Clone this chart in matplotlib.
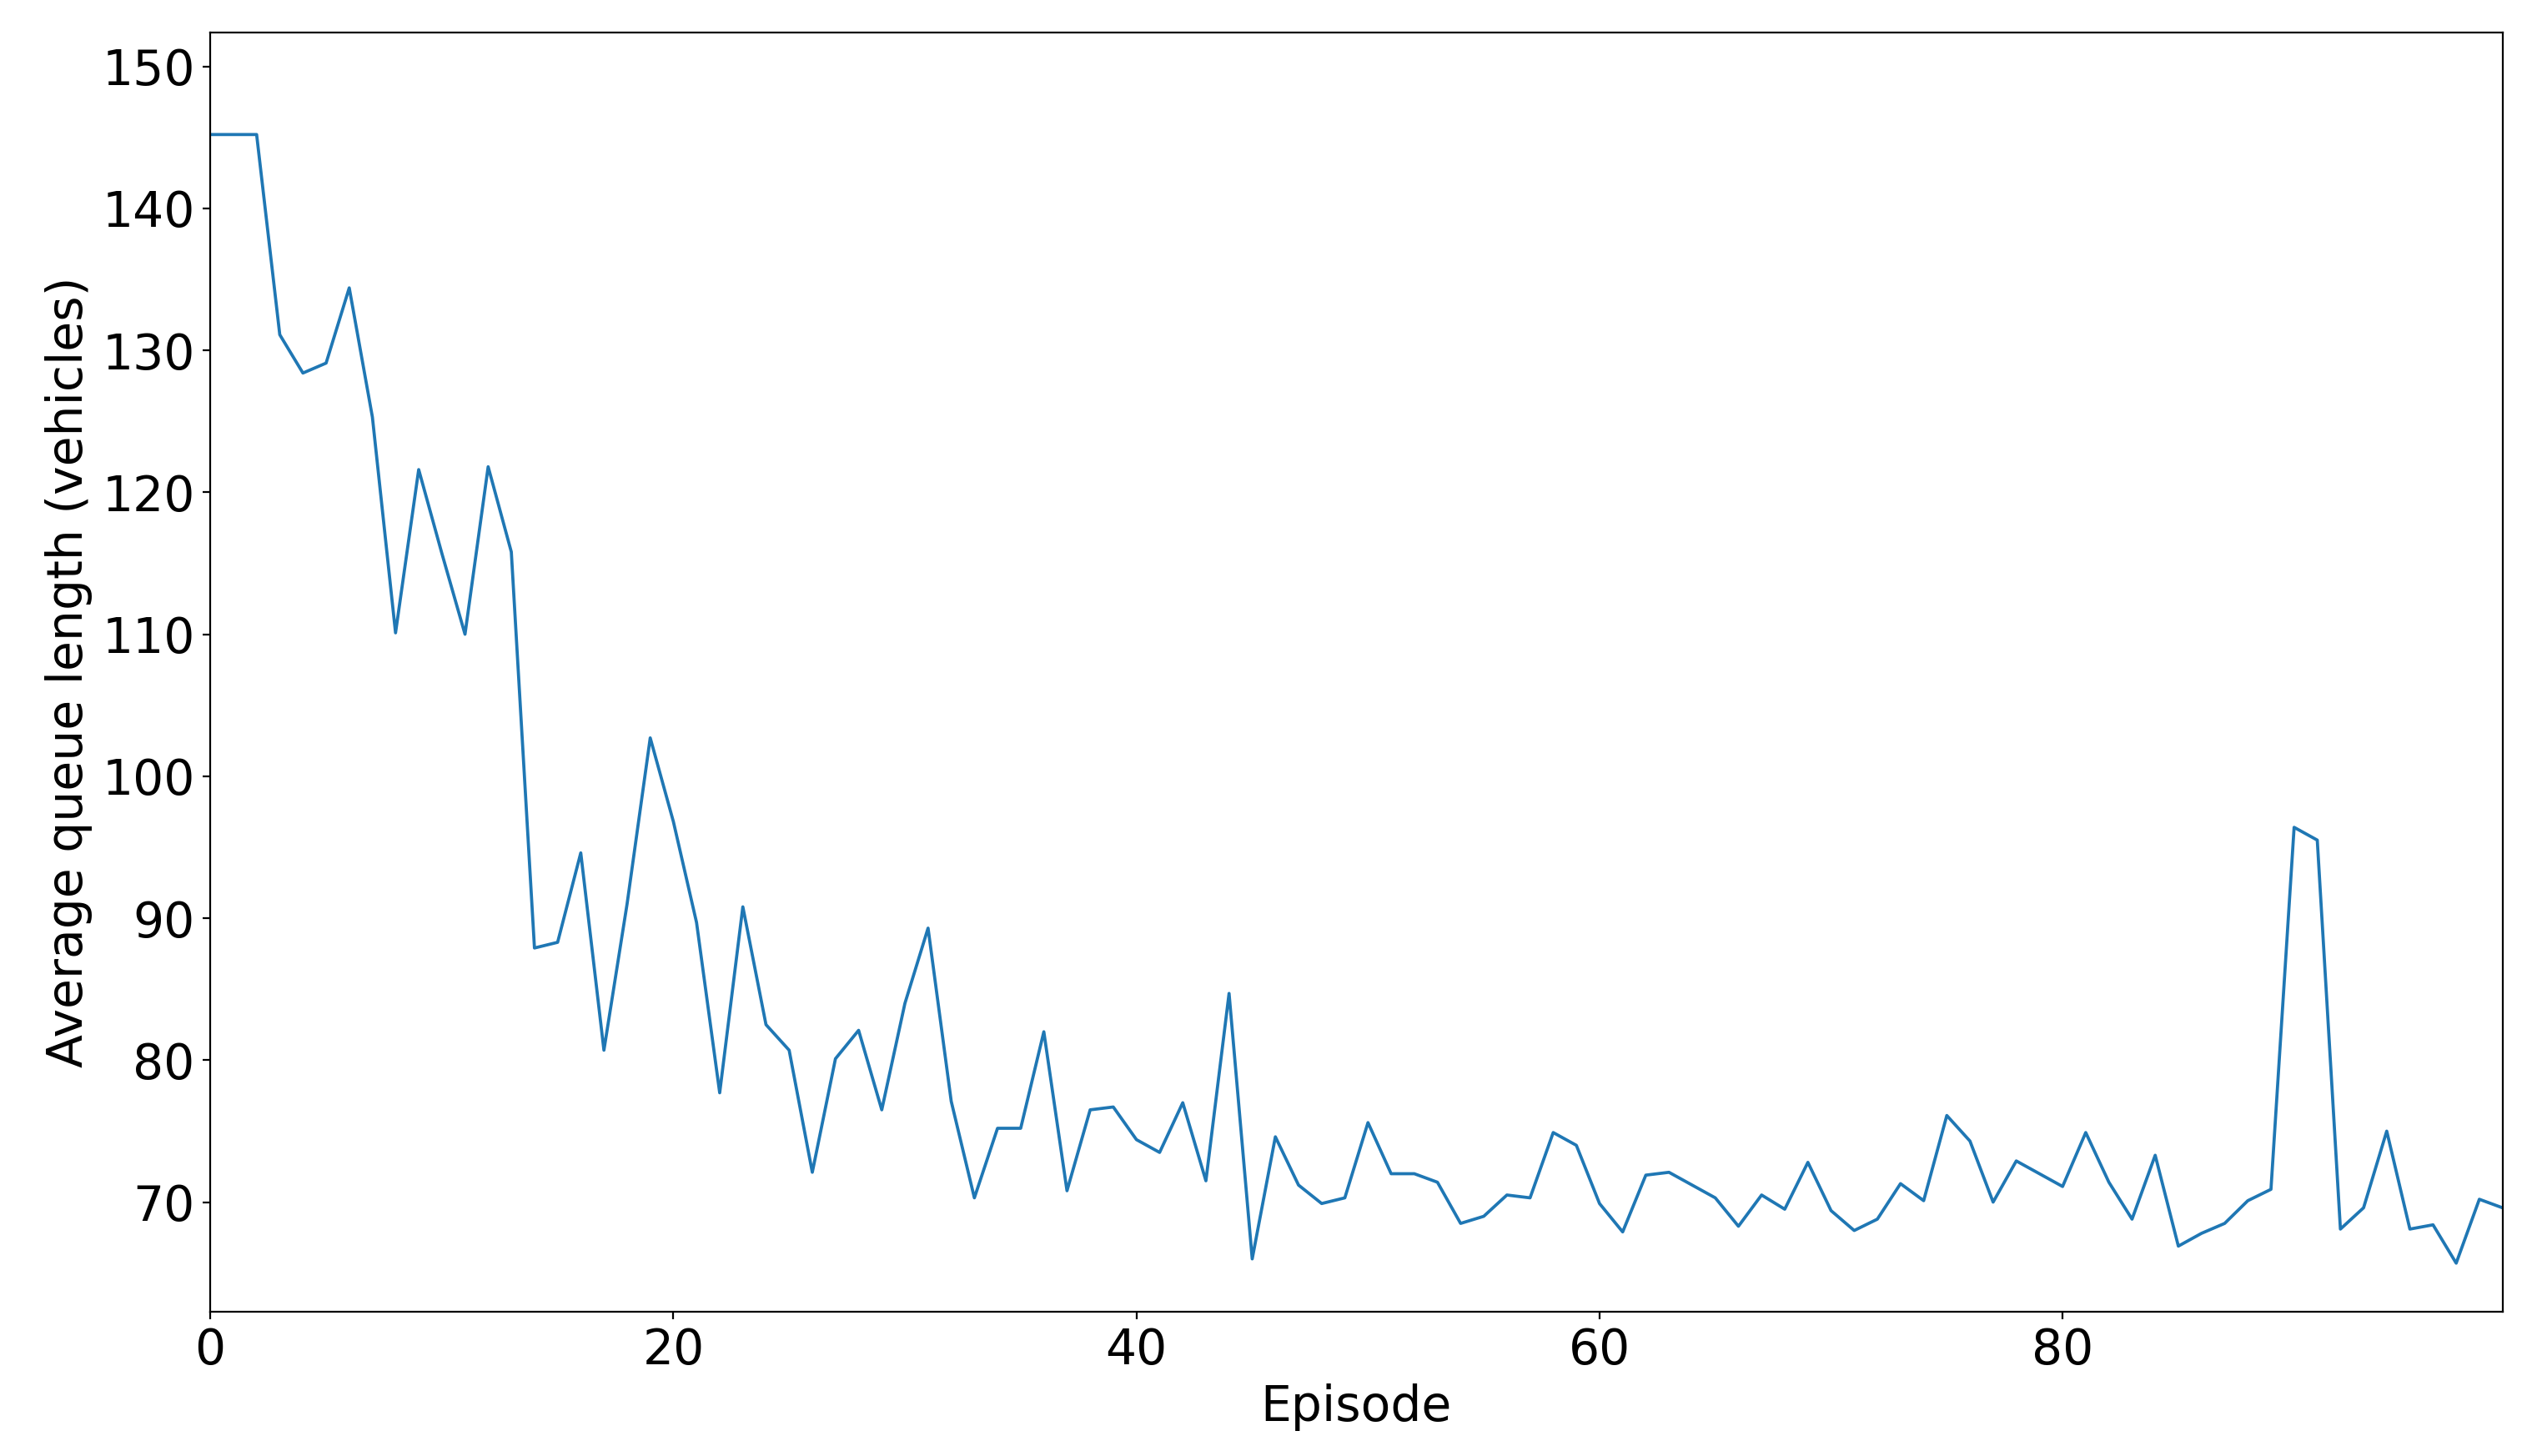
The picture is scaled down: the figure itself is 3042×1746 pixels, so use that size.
import matplotlib
matplotlib.use("Agg")
import matplotlib.pyplot as plt
import numpy as np

# average queue length per episode
episodes = np.arange(100)
queue_length = [
    145.2, 145.2, 145.2, 131.1, 128.4, 129.1, 134.4, 125.3, 110.1, 121.6,
    115.7, 110.0, 121.8, 115.8, 87.9, 88.3, 94.6, 80.7, 91.0, 102.7,
    96.8, 89.7, 77.7, 90.8, 82.5, 80.7, 72.1, 80.1, 82.1, 76.5,
    84.0, 89.3, 77.1, 70.3, 75.2, 75.2, 82.0, 70.8, 76.5, 76.7,
    74.4, 73.5, 77.0, 71.5, 84.7, 66.0, 74.6, 71.2, 69.9, 70.3,
    75.6, 72.0, 72.0, 71.4, 68.5, 69.0, 70.5, 70.3, 74.9, 74.0,
    69.9, 67.9, 71.9, 72.1, 71.2, 70.3, 68.3, 70.5, 69.5, 72.8,
    69.4, 68.0, 68.8, 71.3, 70.1, 76.1, 74.3, 70.0, 72.9, 72.0,
    71.1, 74.9, 71.4, 68.8, 73.3, 66.9, 67.8, 68.5, 70.1, 70.9,
    96.4, 95.5, 68.1, 69.6, 75.0, 68.1, 68.4, 65.7, 70.2, 69.6,
]

plt.rcParams['font.size'] = 21
fig = plt.figure(figsize=(15.21, 8.73), dpi=200)
ax = fig.add_axes([0.0829, 0.0993, 0.9035, 0.8785])

ax.plot(episodes, queue_length, color='#1f77b4', linewidth=1.35)
ax.set_xlim(0, 99)
ax.set_ylim(62.3, 152.4)
ax.set_xticks([0, 20, 40, 60, 80])
ax.set_yticks([70, 80, 90, 100, 110, 120, 130, 140, 150])
ax.tick_params(length=3.2)
ax.set_xlabel('Episode')
ax.set_ylabel('Average queue length (vehicles)')

fig.savefig('out.png', dpi=200)
